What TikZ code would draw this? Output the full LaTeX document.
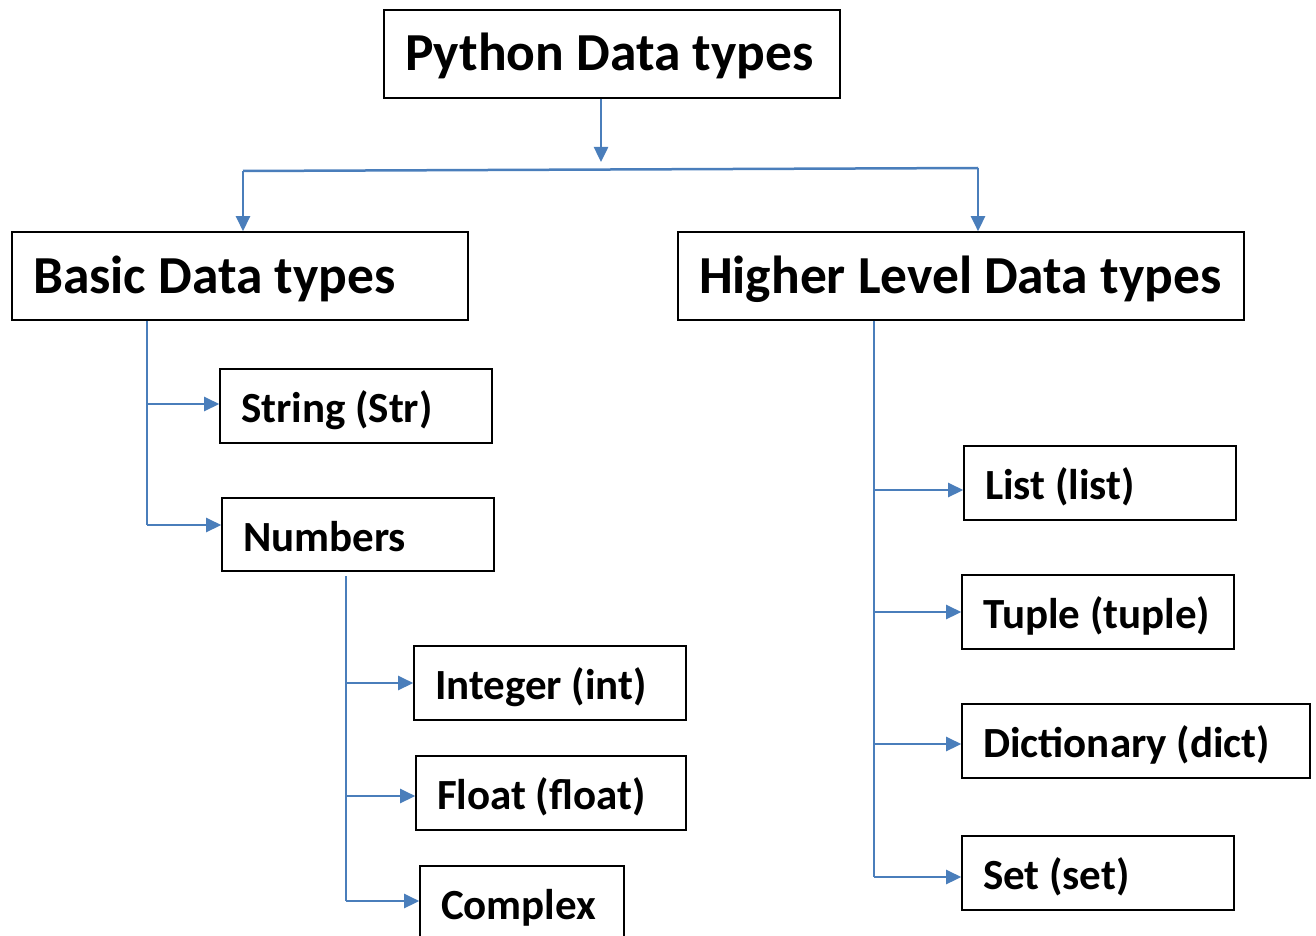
\documentclass[tikz,border=0pt]{standalone}
\usepackage{fontspec}
\setmainfont{Carlito}
\usetikzlibrary{arrows.meta}
\definecolor{conblue}{HTML}{4A7EBB}
\newcommand\bigtext[2]{\makebox[#1][l]{\rule[-12pt]{0pt}{58pt}#2}}
\newcommand\smalltext[2]{\makebox[#1][l]{\rule[-6pt]{0pt}{46pt}#2}}
\tikzset{
  box/.style={draw=black, line width=1.6pt, rectangle, inner xsep=21pt, inner ysep=0pt},
  bigbox/.style={box, minimum height=88pt, font=\fontsize{53.5}{60}\selectfont\bfseries},
  smallbox/.style={box, minimum height=74pt, font=\fontsize{43}{48}\selectfont\bfseries},
  conn/.style={draw=conblue, line width=2.5pt},
  arr/.style={conn, -{Triangle[length=15pt,width=14pt]}}
}
\begin{document}
\begin{tikzpicture}[x=1pt,y=-1pt]
\useasboundingbox (0,0) rectangle (1316,936);
% boxes
\node[bigbox] (py) at (612,54) {\bigtext{414pt}{Python Data types}};
\node[bigbox] (basic) at (240,276) {\bigtext{414pt}{Basic Data types}};
\node[bigbox] (higher) at (961,276) {\bigtext{524pt}{Higher Level Data types}};
\node[smallbox] (str) at (356,406) {\smalltext{230pt}{String (Str)}};
\node[smallbox, minimum height=73pt] (num) at (358,534.5) {\smalltext{230pt}{Numbers}};
\node[smallbox] (int) at (550,683) {\smalltext{230pt}{Integer (int)}};
\node[smallbox] (flt) at (551,793) {\smalltext{228pt}{Float (float)}};
\node[smallbox] (cpx) at (522,903) {\smalltext{162pt}{Complex}};
\node[smallbox] (lst) at (1100,483) {\smalltext{230pt}{List (list)}};
\node[smallbox] (tup) at (1098,612) {\smalltext{230pt}{Tuple (tuple)}};
\node[smallbox] (dct) at (1136,741) {\smalltext{306pt}{Dictionary (dict)}};
\node[smallbox] (set) at (1098,873) {\smalltext{230pt}{Set (set)}};
% top connectors
\coordinate (tip) at (601,162);
\coordinate (hl) at (243,171);
\coordinate (hr) at (978,168);
\draw[arr] (tip |- py.south) -- (tip);
\draw[conn] (hl) -- (hr);
\draw[arr] (hl) -- (hl |- basic.north);
\draw[arr] (hr) -- (hr |- higher.north);
% basic trunk
\coordinate (bt) at (147,525);
\draw[conn] (bt |- basic.south) -- (bt);
\draw[arr] ([yshift=2pt]bt |- str.west) -- ([yshift=2pt]str.west);
\draw[arr] (bt) -- (bt -| num.west);
% numbers trunk
\coordinate (ntop) at (346,576);
\coordinate (nbot) at (346,901);
\draw[conn] (ntop) -- (nbot);
\draw[arr] (ntop |- int.west) -- (int.west);
\draw[arr] ([yshift=-3pt]ntop |- flt.west) -- ([yshift=-3pt]flt.west);
\draw[arr] (nbot) -- (nbot -| cpx.west);
% higher trunk
\coordinate (ht) at (874,877);
\draw[conn] (ht |- higher.south) -- (ht);
\draw[arr] ([yshift=-7pt]ht |- lst.west) -- ([yshift=-7pt]lst.west);
\draw[arr] (ht |- tup.west) -- (tup.west);
\draw[arr] ([yshift=-3pt]ht |- dct.west) -- ([yshift=-3pt]dct.west);
\draw[arr] (ht) -- (ht -| set.west);
\end{tikzpicture}
\end{document}
